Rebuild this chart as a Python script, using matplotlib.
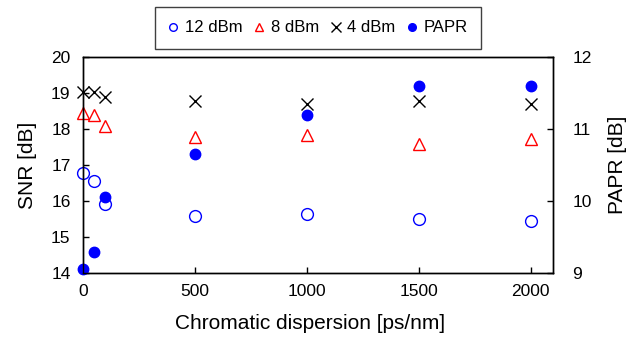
import matplotlib.pyplot as plt
from matplotlib.lines import Line2D

plt.rcParams['font.family'] = ['Liberation Sans', 'DejaVu Sans']

# chromatic dispersion points [ps/nm]
dispersion = [0, 50, 100, 500, 1000, 1500, 2000]

# SNR [dB] for each launch power
snr_12dbm = [16.77, 16.55, 15.92, 15.58, 15.64, 15.49, 15.45]
snr_8dbm = [18.45, 18.38, 18.07, 17.79, 17.83, 17.58, 17.73]
snr_4dbm = [19.02, 19.02, 18.90, 18.78, 18.69, 18.79, 18.69]

# PAPR [dB]
papr = [9.06, 9.29, 10.06, 10.65, 11.19, 11.60, 11.60]

fig = plt.figure(figsize=(6.33, 3.37), dpi=100)
ax = fig.add_axes([83 / 633, 1 - 273 / 337, 470 / 633, 216 / 337])
ax2 = ax.twinx()

ax.plot(dispersion, snr_12dbm, 'o', ls='none', ms=8.5, mfc='none',
        mec='#0000ff', mew=1.0, clip_on=False)
ax.plot(dispersion, snr_8dbm, '^', ls='none', ms=8.5, mfc='none',
        mec='#ff0000', mew=1.0, clip_on=False)
ax.plot(dispersion, snr_4dbm, 'x', ls='none', ms=8, color='black',
        mew=1.0, clip_on=False)
ax2.plot(dispersion, papr, 'o', ls='none', ms=7.5, color='#0000ff',
         clip_on=False)

ax.set_xlim(0, 2100)
ax.set_ylim(14, 20)
ax2.set_ylim(9, 12)
ax.set_xticks([0, 500, 1000, 1500, 2000])
ax.set_yticks(range(14, 21))
ax2.set_yticks(range(9, 13))

for a in (ax, ax2):
    a.tick_params(direction='in', labelsize=12.5, length=4, width=1)
    for s in a.spines.values():
        s.set_linewidth(1.0)
ax.tick_params(axis='x', pad=8)
ax.tick_params(axis='y', pad=9)
ax2.tick_params(axis='y', pad=14)

ax.set_xlabel('Chromatic dispersion [ps/nm]', fontsize=15)
ax.xaxis.set_label_coords((310 - 83) / 470, -0.19)
ax.set_ylabel('SNR [dB]', fontsize=15, labelpad=10)
ax2.set_ylabel('PAPR [dB]', fontsize=15, labelpad=12)

# smaller symbols for the legend row
handles = [
    Line2D([], [], marker='o', ls='none', ms=5.5, mfc='none', mec='#0000ff',
           mew=1.0, label='12 dBm'),
    Line2D([], [], marker='^', ls='none', ms=5.5, mfc='none', mec='#ff0000',
           mew=1.0, label='8 dBm'),
    Line2D([], [], marker='x', ls='none', ms=6.5, color='black', mew=1.0,
           label='4 dBm'),
    Line2D([], [], marker='o', ls='none', ms=5.5, color='#0000ff',
           label='PAPR'),
]
leg = fig.legend(handles=handles, loc='center',
                 bbox_to_anchor=(318 / 633, 1 - 28 / 337), ncol=4,
                 fontsize=12, handlelength=0.6,
                 handletextpad=0.4, columnspacing=0.7, fancybox=False,
                 edgecolor='#404040', framealpha=1, borderpad=0.8)
leg.get_frame().set_linewidth(1.0)

fig.savefig('out.png', dpi=100)
